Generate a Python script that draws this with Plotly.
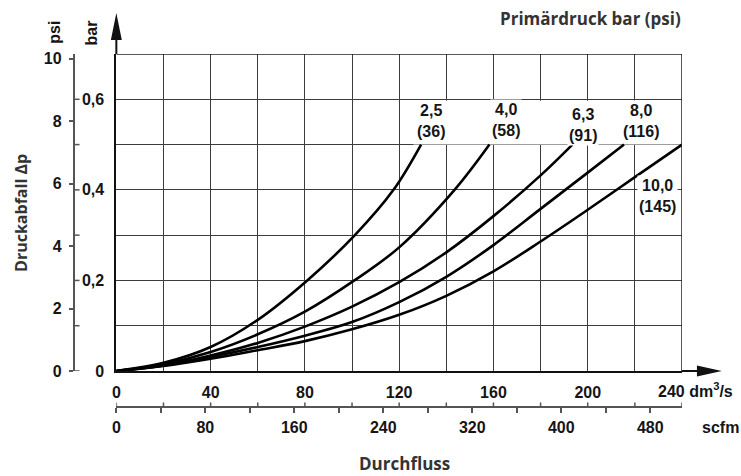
import plotly.graph_objects as go

# ---------------- data ----------------
flow_25 = [0, 20, 40, 60, 81, 101.2, 117.6, 129.3]
dp_25 = [0, 0.018, 0.053, 0.113, 0.2, 0.3, 0.4, 0.5]

flow_40 = [0, 20, 40, 60, 80, 101, 120, 143.5, 158.3]
dp_40 = [0, 0.015, 0.042, 0.081, 0.131, 0.2, 0.273, 0.4, 0.5]

flow_63 = [0, 20, 40, 60, 80, 100, 120, 140, 160, 180, 193.5]
dp_63 = [0, 0.012, 0.034, 0.062, 0.098, 0.142, 0.196, 0.262, 0.342, 0.432, 0.5]

flow_80 = [0, 20, 40, 60, 80, 100, 120, 140, 160, 180, 200, 215.4]
dp_80 = [0, 0.012, 0.031, 0.053, 0.078, 0.108, 0.152, 0.208, 0.278, 0.358, 0.438, 0.5]

flow_100 = [0, 20, 40, 60, 80, 100, 120, 140, 160, 180, 200, 220, 240]
dp_100 = [0, 0.011, 0.027, 0.046, 0.066, 0.092, 0.124, 0.166, 0.22, 0.286, 0.356, 0.428, 0.5]

curve_labels = ["2,5<br>(36)", "4,0<br>(58)", "6,3<br>(91)", "8,0<br>(116)", "10,0<br>(145)"]

flow_ticks = [0, 20, 40, 60, 80, 100, 120, 140, 160, 180, 200, 220, 240]
flow_ticktext = ["0", "", "40", "", "80", "", "120", "", "160", "", "200", "", ""]
bar_ticks = [0, 0.1, 0.2, 0.3, 0.4, 0.5, 0.6, 0.7]
bar_ticktext = ["0", "", "0,2", "", "0,4", "", "0,6", ""]
psi_ticks = [0, 2, 4, 6, 8, 10]
scfm_ticks = [0, 40, 80, 120, 160, 200, 240, 280, 320, 360, 400, 440, 480]
scfm_ticktext = ["0", "", "80", "", "160", "", "240", "", "320", "", "400", "", "480"]

BAR_TO_PSI = 14.5038
DM3S_TO_SCFM = 2.1189
X_MAX = 240
Y_MAX = 0.7

# ---------------- layout geometry (pixels) ----------------
W, H = 741, 476
ML, MR, MT, MB = 0, 59, 54, 40
PW, PH = W - ML - MR, H - MT - MB
X0PX, X1PX = 113, 682          # plot left/right
Y0PX, Y1PX = 371, 54           # plot bottom/top
PSI_X = 70                     # psi axis line
SCFM_Y = 407                   # scfm axis line


def px(xp):
    return (xp - ML) / PW


def py(yp):
    return (H - MB - yp) / PH


label_pos = [(133.5, 0.552), (165.5, 0.554), (197.9, 0.543), (222.7, 0.552), (229.5, 0.386)]

TICKFONT = dict(family="Liberation Sans, Arial, sans-serif", size=16, color="#151515", weight="bold")
TITLEFONT = dict(family="Open Sans, sans-serif", size=17, color="#333333", weight=700)
TITLEFONT_V = dict(family="Open Sans, sans-serif", size=16, color="#333333", weight=700)
GRID = "#3c3c3c"

fig = go.Figure()
for fx, fy in [(flow_25, dp_25), (flow_40, dp_40), (flow_63, dp_63), (flow_80, dp_80), (flow_100, dp_100)]:
    fig.add_trace(go.Scatter(x=fx, y=fy, mode="lines",
                             line=dict(color="black", width=2.6, shape="spline", smoothing=1.0),
                             showlegend=False, hoverinfo="skip", cliponaxis=False))
# carriers for the secondary (psi / scfm) axes
fig.add_trace(go.Scatter(x=[None], y=[None], yaxis="y2", mode="lines", showlegend=False, hoverinfo="skip"))
fig.add_trace(go.Scatter(x=[None], y=[None], xaxis="x2", mode="lines", showlegend=False, hoverinfo="skip"))

xdom = [px(X0PX), 1.0]
ydom = [py(Y0PX), 1.0]

fig.update_layout(
    width=W, height=H,
    margin=dict(l=ML, r=MR, t=MT, b=MB),
    paper_bgcolor="white", plot_bgcolor="white",
    showlegend=False,
    xaxis=dict(domain=xdom, range=[0, X_MAX], tickvals=flow_ticks, ticktext=flow_ticktext,
               showgrid=True, gridcolor=GRID, gridwidth=1, zeroline=False,
               showline=True, linecolor="#111", linewidth=2, ticks="",
               tickfont=TICKFONT, ticklabelstandoff=6, fixedrange=True),
    yaxis=dict(domain=ydom, range=[0, Y_MAX], tickvals=bar_ticks, ticktext=bar_ticktext,
               showgrid=True, gridcolor=GRID, gridwidth=1, zeroline=False,
               showline=True, linecolor="#111", linewidth=2, ticks="",
               tickfont=TICKFONT, ticklabelstandoff=7, fixedrange=True),
    yaxis2=dict(overlaying="y", anchor="free", position=px(PSI_X), side="left",
                range=[0, Y_MAX * BAR_TO_PSI], tickvals=psi_ticks,
                showgrid=False, zeroline=False, showline=True, linecolor="#555", linewidth=1.5,
                ticks="outside", ticklen=4, tickcolor="#555", tickwidth=1.5,
                tickfont=TICKFONT, ticklabelstandoff=4, fixedrange=True),
    xaxis2=dict(overlaying="x", anchor="free", position=py(SCFM_Y), side="bottom",
                range=[0, X_MAX * DM3S_TO_SCFM], tickvals=scfm_ticks,
                ticktext=scfm_ticktext,
                showgrid=False, zeroline=False, showline=True, linecolor="#555", linewidth=1.8,
                ticks="outside", ticklen=5, tickcolor="#555", tickwidth=1.5,
                tickfont=TICKFONT, ticklabelstandoff=1, fixedrange=True),
)

shapes = []
# white area behind the pressure labels
shapes.append(dict(type="rect", xref="x", yref="y", x0=126, x1=X_MAX, y0=0.5, y1=0.597,
                   fillcolor="white", line=dict(width=0), layer="between"))
# top & right border
shapes.append(dict(type="line", xref="x", yref="y", x0=0, x1=X_MAX, y0=Y_MAX, y1=Y_MAX,
                   line=dict(color="#222", width=1.5), layer="above"))
shapes.append(dict(type="line", xref="x", yref="y", x0=X_MAX, x1=X_MAX, y0=0, y1=Y_MAX,
                   line=dict(color="#222", width=1.5), layer="above"))
# y axis arrow
shapes.append(dict(type="line", xref="paper", yref="paper", x0=px(X0PX), x1=px(X0PX),
                   y0=py(Y1PX), y1=py(38), line=dict(color="#111", width=2)))
shapes.append(dict(type="path", xref="paper", yref="paper",
                   path=f"M {px(X0PX-5.5)} {py(40)} L {px(X0PX)} {py(13)} L {px(X0PX+5.5)} {py(40)} Z",
                   fillcolor="#111", line=dict(width=0)))
# x axis arrow
shapes.append(dict(type="line", xref="paper", yref="paper", x0=px(X1PX), x1=px(699),
                   y0=py(Y0PX), y1=py(Y0PX), line=dict(color="#111", width=2)))
shapes.append(dict(type="path", xref="paper", yref="paper",
                   path=f"M {px(697)} {py(Y0PX-5.5)} L {px(722)} {py(Y0PX)} L {px(697)} {py(Y0PX+5.5)} Z",
                   fillcolor="#111", line=dict(width=0)))
# bar ticks on psi axis (pointing right)
for b in bar_ticks[:-1]:
    shapes.append(dict(type="line", xref="paper", yref="y", x0=px(PSI_X), x1=px(PSI_X + 6),
                       y0=b, y1=b, line=dict(color="#555", width=1.5)))
# dm3/s ticks on scfm axis (pointing up)
for f in flow_ticks:
    shapes.append(dict(type="line", xref="x", yref="paper", x0=f, x1=f,
                       y0=py(SCFM_Y), y1=py(SCFM_Y - 4.5), line=dict(color="#555", width=1.5)))
fig.update_layout(shapes=shapes)

ann = []
for txt, (lx, ly) in zip(curve_labels, label_pos):
    ann.append(dict(x=lx, y=ly, xref="x", yref="y", text=txt, showarrow=False,
                    font=TICKFONT, bgcolor="white", borderpad=1, align="center"))
ann.append(dict(x=px(656), y=py(390), xref="paper", yref="paper", text="240 dm<sup>3</sup>/s",
                showarrow=False, xanchor="left", yanchor="middle", font=TICKFONT))
ann.append(dict(x=px(700), y=py(427), xref="paper", yref="paper", text="scfm",
                showarrow=False, xanchor="left", yanchor="middle", font=TICKFONT))
ann.append(dict(x=px(50), y=py(32), xref="paper", yref="paper", text="psi", textangle=-90,
                showarrow=False, xanchor="center", yanchor="middle", font=TICKFONT))
ann.append(dict(x=px(89), y=py(33), xref="paper", yref="paper", text="bar", textangle=-90,
                showarrow=False, xanchor="center", yanchor="middle", font=TICKFONT))
ann.append(dict(x=px(17), y=py(213), xref="paper", yref="paper", text="Druckabfall Δp", textangle=-90,
                showarrow=False, xanchor="center", yanchor="middle", font=TITLEFONT_V))
ann.append(dict(x=px(403), y=py(463), xref="paper", yref="paper", text="Durchfluss",
                showarrow=False, xanchor="center", yanchor="middle", font=TITLEFONT))
ann.append(dict(x=px(683), y=py(18), xref="paper", yref="paper", text="Primärdruck bar (psi)",
                showarrow=False, xanchor="right", yanchor="middle", font=TITLEFONT))
fig.update_layout(annotations=ann)

fig.write_html("out.html", config={"displayModeBar": False},
               post_script="document.body.style.margin='0';")
